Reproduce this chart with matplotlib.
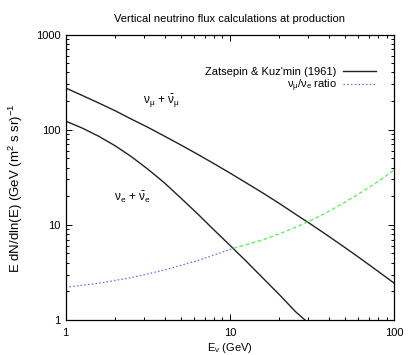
import numpy as np
import matplotlib
matplotlib.use('Agg')
import matplotlib.pyplot as plt
from matplotlib.lines import Line2D

plt.rcParams['font.family'] = ['Liberation Sans', 'DejaVu Sans']
plt.rcParams['mathtext.fontset'] = 'custom'
plt.rcParams['mathtext.rm'] = 'Liberation Sans'
plt.rcParams['mathtext.it'] = 'Liberation Sans:italic'
plt.rcParams['mathtext.default'] = 'rm'

# energies (GeV) and fluxes
e_numu = [1.0, 1.26, 1.585, 2.0, 2.512, 3.16, 3.98, 5.01, 6.31, 7.94, 10.0,
          12.6, 15.85, 19.95, 25.1, 31.6, 39.8, 50.1, 63.1, 79.4, 100.0]
numu_flux = [274, 229, 191, 158, 129, 106, 85.7, 69.2, 55.5, 44.2, 35.0,
             27.5, 21.6, 16.8, 12.9, 9.95, 7.60, 5.77, 4.35, 3.26, 2.43]

e_nue = [1.0, 1.26, 1.585, 2.0, 2.512, 3.16, 3.98, 5.01, 6.31, 7.94, 10.0,
         12.6, 15.85, 19.95, 25.1, 28.6]
nue_flux = [123, 104, 85.4, 67.7, 52.0, 38.5, 27.7, 19.2, 13.2, 8.93, 6.08,
            4.12, 2.76, 1.85, 1.22, 1.0]

# numu/nue ratio, blue below ~10.5 GeV, green above
e_ratio_lo = [1.0, 1.585, 2.512, 3.98, 6.31, 10.0, 10.5]
ratio_lo = [2.21, 2.43, 2.79, 3.35, 4.20, 5.50, 5.67]
e_ratio_hi = [10.5, 15.85, 19.95, 25.1, 31.6, 39.8, 50.1, 63.1, 79.4, 100.0]
ratio_hi = [5.67, 6.97, 8.03, 9.44, 11.3, 13.8, 17.3, 22.0, 28.5, 37.7]

xticks = [1, 10, 100]
yticks = [1, 10, 100, 1000]

fig = plt.figure(figsize=(4.14, 3.55), dpi=100)
ax = fig.add_axes([0.1587, 0.0986, 0.7937, 0.8042])

ax.plot(e_numu, numu_flux, color='#222222', lw=1.0)
ax.plot(e_nue, nue_flux, color='#222222', lw=1.0)
ax.plot(e_ratio_lo, ratio_lo, color='#6666ff', lw=0.9, ls=(0, (1.2, 1.8)))
ax.plot(e_ratio_hi, ratio_hi, color='#55ee55', lw=0.9, ls=(0, (3, 2)))

ax.set_xscale('log')
ax.set_yscale('log')
ax.set_xlim(1, 100)
ax.set_ylim(1, 1000)
ax.set_xticks(xticks)
ax.set_xticklabels([str(t) for t in xticks])
ax.set_yticks(yticks)
ax.set_yticklabels([str(t) for t in yticks])
ax.tick_params(which='both', direction='in', top=True, right=True, labelsize=8, width=0.7)
ax.tick_params(which='major', length=4)
ax.tick_params(which='minor', length=2.2)
ax.tick_params(axis='x', pad=6)
for s in ax.spines.values():
    s.set_linewidth(0.9)

ax.text(0.29, 0.767, r'$\nu_\mu$ + $\bar{\nu}_\mu$', transform=ax.transAxes, fontsize=8.5,
        ha='center', va='center')
ax.text(0.202, 0.431, r'$\nu_e$ + $\bar{\nu}_e$', transform=ax.transAxes, fontsize=8.5,
        ha='center', va='center')

handles = [Line2D([], [], color='#222222', lw=1.0),
           Line2D([], [], color='#6666ff', lw=0.9, ls=(0, (1.2, 1.8)))]
labels = ["Zatsepin & Kuz'min (1961)", r'$\nu_\mu/\nu_e$ ratio']
ax.legend(handles, labels, loc='upper right', bbox_to_anchor=(0.96, 0.905),
          markerfirst=False, frameon=False, fontsize=8, handlelength=2.9,
          handletextpad=0.6, labelspacing=0.05, borderpad=0)

ax.set_title('Vertical neutrino flux calculations at production', fontsize=8, pad=9)
ax.set_xlabel(r'E$_\nu$ (GeV)', fontsize=8, labelpad=2)
ax.set_ylabel(r'E dN/dln(E) (GeV (m$^2$ s sr)$^{-1}$', fontsize=9.5)
ax.yaxis.set_label_coords(-0.125, 0.46)

fig.savefig('out.png', dpi=100)
